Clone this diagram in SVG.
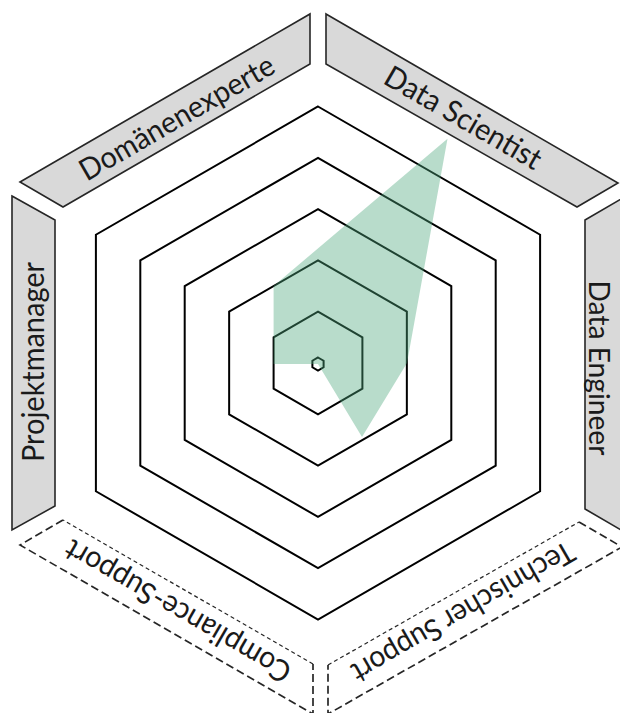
<svg xmlns="http://www.w3.org/2000/svg" width="620" height="713" viewBox="0 0 620 713">
  <style>
    .panel { fill: #d9d9d9; stroke: #262626; stroke-width: 1.6; stroke-linejoin: miter; }
    .dash-outer { fill: none; stroke: #262626; stroke-width: 1.7; stroke-dasharray: 8 4; }
    .dash-inner { fill: none; stroke: #262626; stroke-width: 1.2; stroke-dasharray: 4 3; }
    .ring { fill: none; stroke: #000; stroke-width: 2; stroke-linejoin: miter; }
    .lbl { font-family: Lato, "Open Sans", "Liberation Sans", sans-serif; font-size: 30px; fill: #1a1a1a; text-anchor: middle; }
    .data { fill: #4ea87c; fill-opacity: 0.4; stroke: none; }
  </style>
  <rect x="0" y="0" width="620" height="713" fill="#ffffff"/>

  <g id="rings">
    <polygon class="ring" points="318,106.5 540.1,234.75 540.1,491.25 318,619.5 95.9,491.25 95.9,234.75"/>
    <polygon class="ring" points="318,157.8 495.7,260.4 495.7,465.6 318,568.2 140.3,465.6 140.3,260.4"/>
    <polygon class="ring" points="318,209.1 451.3,286.05 451.3,439.95 318,516.9 184.7,439.95 184.7,286.05"/>
    <polygon class="ring" points="318,260.4 406.85,311.7 406.85,414.3 318,465.6 229.15,414.3 229.15,311.7"/>
    <polygon class="ring" points="318,311.7 362.4,337.35 362.4,388.65 318,414.3 273.6,388.65 273.6,337.35"/>
    <polygon class="ring" points="318,357.5 323.6,360.75 323.6,367.25 318,370.5 312.4,367.25 312.4,360.75"/>
  </g>

  <g id="profile">
    <polygon class="data" points="447.5,138.7 407,363 362,437 318,364 273.6,364 273.6,286"/>
  </g>

  <g id="domaenenexperte">
    <polygon class="panel" points="20,182 310,14 310,64 63,207"/>
    <text class="lbl" transform="translate(177,118) rotate(-30)" x="0" y="10" textLength="220" lengthAdjust="spacingAndGlyphs">Domänenexperte</text>
  </g>

  <g id="data-scientist">
    <polygon class="panel" points="326,14 618,183 577,207 326,64"/>
    <text class="lbl" transform="translate(463,118) rotate(30)" x="0" y="10" textLength="176" lengthAdjust="spacingAndGlyphs">Data Scientist</text>
  </g>

  <g id="data-engineer">
    <polygon class="panel" points="585,220 628,195 628,534 585,509"/>
    <text class="lbl" transform="translate(599,368) rotate(90)" x="0" y="10" textLength="175" lengthAdjust="spacingAndGlyphs" style="font-size:29px">Data Engineer</text>
  </g>

  <g id="technischer-support">
    <path class="dash-outer" d="M579,522 L622,547 L328,714 L328,665"/>
    <path class="dash-inner" d="M328,665 L579,522"/>
    <text class="lbl" transform="translate(463,612) rotate(150)" x="0" y="10" textLength="252" lengthAdjust="spacingAndGlyphs">Technischer Support</text>
  </g>

  <g id="compliance-support">
    <path class="dash-outer" d="M63,520 L20,545 L313,714 L313,664"/>
    <path class="dash-inner" d="M313,664 L63,520"/>
    <text class="lbl" transform="translate(178,611) rotate(-150)" x="0" y="10" textLength="256" lengthAdjust="spacingAndGlyphs">Compliance-Support</text>
  </g>

  <g id="projektmanager">
    <polygon class="panel" points="12,196 55,220 55,506 12,530"/>
    <text class="lbl" transform="translate(33.5,362) rotate(-90)" x="0" y="10" textLength="200" lengthAdjust="spacingAndGlyphs">Projektmanager</text>
  </g>

  <g id="connectors"/>
</svg>
